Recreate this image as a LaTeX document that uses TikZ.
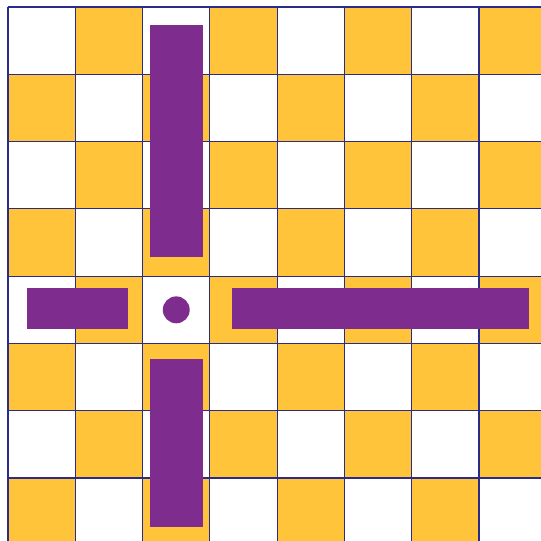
\documentclass[tikz,border=0pt]{standalone}
\usetikzlibrary{positioning}
\definecolor{boardgold}{HTML}{FFC43A}
\definecolor{barpurple}{HTML}{7F2C8F}
\definecolor{gridnavy}{HTML}{2B2B8A}
\tikzset{
  goldsq/.style={fill=boardgold},
  gridln/.style={draw=gridnavy,line width=0.5pt},
  bar/.style={fill=barpurple},
}

\begin{document}
\begin{tikzpicture}[y=-1cm]
\useasboundingbox (-0.119,-0.104) rectangle (7.92,7.935);

% board
\foreach \r in {0,...,7}
  \foreach \c in {0,...,7}{
    \pgfmathtruncatemacro\odd{mod(\r+\c,2)}
    \ifnum\odd=1 \fill[goldsq] (\c,\r) rectangle ++(1,1); \fi
  }
\draw[gridln] (0,0) grid (8,8);

% bars and centre
\fill[bar] (2.11,0.27) rectangle (2.90,3.71);
\fill[bar] (2.11,5.23) rectangle (2.90,7.73);
\fill[bar] (0.28,4.18) rectangle (1.78,4.78);
\fill[bar] (3.33,4.18) rectangle (7.74,4.78);
\fill[bar] (2.5,4.5) circle (0.2);

\end{tikzpicture}
\end{document}
